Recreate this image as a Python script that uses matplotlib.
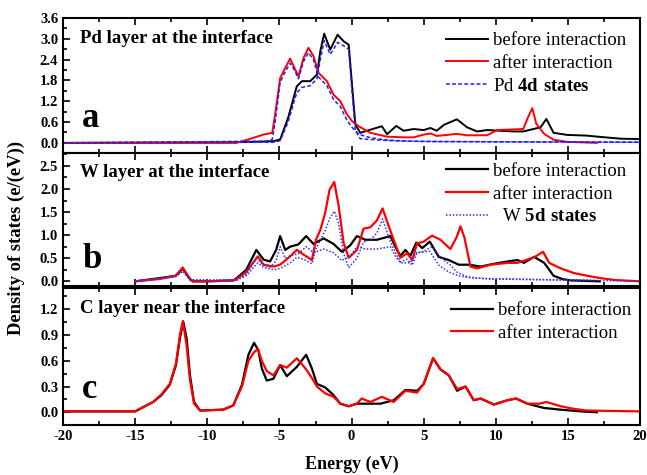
import matplotlib
matplotlib.use("Agg")
import matplotlib.pyplot as plt
from matplotlib.ticker import MultipleLocator

plt.rcParams['font.family'] = 'Liberation Serif'
plt.rcParams['mathtext.fontset'] = 'custom'
plt.rcParams['mathtext.rm'] = 'Liberation Serif'
plt.rcParams['mathtext.bf'] = 'Liberation Serif:bold'
plt.rcParams['axes.unicode_minus'] = False

# Panel a: Pd layer at the interface
eA_before = [-20, -8, -6, -5.4, -4.95, -4.4, -3.8, -3.44, -2.87, -2.4, -2.17, -1.9, -1.48, -0.97,
             -0.55, -0.2, 0.03, 0.26, 0.6, 1.3, 2.1, 2.46, 3.1, 3.6, 4.3, 5.0, 5.46, 5.9, 6.4, 7.3,
             8.0, 8.7, 9.4, 10.3, 11.25, 11.9, 12.6, 13.1, 13.5, 14.0, 14.95, 16.3, 17.3, 18.7, 20]
dosA_before = [0, 0.02, 0.04, 0.05, 0.1, 0.72, 1.63, 1.78, 1.78, 1.97, 2.64, 3.15, 2.69, 3.12,
               2.93, 2.83, 1.68, 0.53, 0.29, 0.38, 0.48, 0.25, 0.49, 0.35, 0.4, 0.37, 0.43, 0.35, 0.52, 0.68,
               0.45, 0.33, 0.37, 0.35, 0.33, 0.33, 0.4, 0.45, 0.69, 0.29, 0.23, 0.21, 0.17, 0.12, 0.11]
eA_after = [-20, -8.0, -7.0, -6.1, -5.5, -5.3, -4.95, -4.6, -4.26, -3.96, -3.68, -3.33, -2.99, -2.64,
            -2.29, -1.71, -1.25, -0.78, -0.32, 0.03, 0.49, 1.3, 2.46, 3.6, 4.3, 5.0, 5.5, 5.9, 7.3,
            8.0, 9.4, 10.1, 11.25, 11.9, 12.25, 12.53, 12.8, 13.35, 14.0, 14.95, 17.0]
dosA_after = [0, 0, 0.12, 0.24, 0.29, 0.82, 1.87, 2.16, 2.43, 2.16, 1.92, 2.45, 2.74, 2.5,
              2.02, 1.78, 1.39, 1.2, 0.82, 0.63, 0.48, 0.29, 0.18, 0.16, 0.16, 0.24, 0.27, 0.2, 0.26,
              0.22, 0.22, 0.37, 0.39, 0.4, 0.76, 1.0, 0.55, 0.26, 0.09, 0.03, 0.0]
eA_4dBefore = [-20, -5.4, -4.95, -4.4, -3.8, -3.44, -2.87, -2.4, -2.17, -1.9, -1.48, -0.97, -0.55,
               -0.2, 0.03, 0.26, 0.6, 1.3, 2.0, 3.0, 5.0, 10.0, 20]
dosA_4dBefore = [0, 0.02, 0.06, 0.6, 1.45, 1.6, 1.65, 1.85, 2.4, 2.95, 2.55, 2.9, 2.8,
                 2.7, 1.5, 0.35, 0.12, 0.1, 0.08, 0.06, 0.04, 0.03, 0.02]
eA_4dAfter = [-20, -6.0, -5.5, -5.3, -4.95, -4.6, -4.26, -3.96, -3.68, -3.33, -2.99, -2.64, -2.29,
              -1.71, -1.25, -0.78, -0.32, 0.03, 0.49, 1.3, 2.5, 4.0, 6.0, 12.0, 20]
dosA_4dAfter = [0, 0.05, 0.1, 0.6, 1.75, 2.05, 2.3, 2.1, 1.85, 2.35, 2.6, 2.4, 1.9,
                1.65, 1.25, 1.05, 0.65, 0.45, 0.25, 0.15, 0.08, 0.05, 0.04, 0.03, 0.02]

# Panel b: W layer at the interface
eB_before = [-15, -13.3, -12.2, -11.7, -11.2, -11.0, -10, -8.2, -7.96, -7.3, -6.6, -6.1, -5.65,
             -5.23, -4.95, -4.6, -4.26, -3.68, -3.15, -2.64, -1.94, -1.25, -0.67, -0.09, 0.37, 0.95,
             1.76, 2.69, 3.03, 3.38, 3.73, 4.07, 4.49, 4.9, 5.42, 6.04, 6.74, 7.43, 8.13, 8.94, 9.87,
             10.8, 11.5, 11.95, 12.65, 13.35, 14.0, 14.6, 15.2, 17.2]
dosB_before = [0, 0.07, 0.12, 0.27, 0.05, 0.0, 0.0, 0.02, 0.07, 0.25, 0.68, 0.47, 0.43,
               0.68, 0.98, 0.68, 0.75, 0.8, 0.98, 0.81, 0.93, 0.81, 0.64, 0.78, 0.98, 0.9,
               0.9, 0.98, 0.75, 0.55, 0.68, 0.55, 0.84, 0.72, 0.86, 0.53, 0.46, 0.36, 0.36, 0.32, 0.38,
               0.43, 0.46, 0.4, 0.53, 0.4, 0.12, 0.05, 0.02, 0.0]
eB_after = [-15, -13.3, -12.2, -11.7, -11.2, -11.0, -10, -8.2, -7.96, -7.3, -6.5, -6.1, -5.4, -4.95,
            -4.26, -3.8, -3.33, -2.75, -2.47, -2.17, -1.83, -1.53, -1.2, -0.9, -0.55, -0.2, 0.37,
            0.83, 1.3, 1.76, 2.15, 2.57, 2.92, 3.38, 3.85, 4.2, 4.54, 5.0, 5.58, 6.16, 6.85, 7.27,
            7.55, 7.82, 8.24, 8.7, 9.63, 10.8, 11.5, 12.65, 13.27, 13.7, 14.5, 15.4, 16.33, 17.25,
            18.2, 20]
dosB_after = [0, 0.05, 0.12, 0.3, 0.05, 0.0, 0.0, 0.02, 0.05, 0.2, 0.54, 0.36, 0.32, 0.36,
              0.54, 0.68, 0.58, 0.46, 0.9, 1.11, 1.48, 1.98, 2.15, 1.64, 0.83, 0.51, 0.68,
              1.14, 1.17, 1.32, 1.58, 1.2, 0.9, 0.51, 0.61, 0.46, 0.82, 0.86, 0.99, 0.9, 0.7, 0.95,
              1.19, 0.95, 0.32, 0.28, 0.36, 0.4, 0.4, 0.52, 0.64, 0.4, 0.28, 0.18, 0.12, 0.07,
              0.03, 0.0]
eB_5dBefore = [-15, -12.2, -11.7, -11.2, -8.0, -7.3, -6.6, -6.1, -5.65, -5.23, -4.95, -4.6, -4.26,
               -3.68, -3.15, -2.64, -1.94, -1.25, -0.67, -0.09, 0.37, 0.95, 1.76, 2.69, 3.03, 3.38,
               4.07, 4.49, 5.42, 6.04, 6.74, 7.43, 8.13, 10.0, 14.0, 17.0]
dosB_5dBefore = [0, 0.1, 0.22, 0.03, 0.02, 0.15, 0.5, 0.35, 0.3, 0.45, 0.75, 0.5, 0.55,
                 0.6, 0.75, 0.62, 0.7, 0.62, 0.45, 0.55, 0.75, 0.7, 0.7, 0.75, 0.55, 0.4,
                 0.4, 0.62, 0.65, 0.35, 0.2, 0.12, 0.08, 0.05, 0.03, 0.02]
eB_5dAfter = [-15, -12.2, -11.7, -11.2, -8.0, -7.3, -6.5, -6.1, -5.4, -4.95, -4.26, -3.8, -3.33,
              -2.75, -2.47, -2.17, -1.83, -1.53, -1.2, -0.9, -0.55, -0.2, 0.37, 0.83, 1.3, 1.76,
              2.15, 2.57, 2.92, 3.38, 3.85, 4.2, 4.54, 5.0, 5.58, 6.16, 6.85, 7.3, 8.0, 8.7, 9.6,
              11.0, 13.0, 15.0, 17.0, 20]
dosB_5dAfter = [0, 0.1, 0.22, 0.03, 0.02, 0.12, 0.4, 0.3, 0.25, 0.28, 0.4, 0.52, 0.48,
                0.38, 0.7, 0.9, 1.1, 1.35, 1.52, 1.25, 0.6, 0.3, 0.5, 0.85, 0.9, 1.05,
                1.35, 0.95, 0.7, 0.42, 0.48, 0.35, 0.62, 0.65, 0.75, 0.52, 0.35, 0.2, 0.1, 0.07, 0.05,
                0.05, 0.04, 0.03, 0.02, 0.0]

# Panel c: C layer near the interface
eC_before = [-20, -15.0, -14.44, -13.75, -13.17, -12.6, -12.17, -11.9, -11.67, -11.43, -11.2, -10.92,
             -10.5, -8.9, -8.2, -7.6, -7.15, -6.76, -6.46, -6.22, -5.88, -5.42, -4.95, -4.49, -3.79,
             -3.15, -2.75, -2.4, -1.83, -1.25, -0.78, -0.2, 0.37, 1.3, 2.0, 2.92, 3.73, 4.54, 5.0,
             5.65, 6.16, 6.74, 7.32, 7.9, 8.47, 8.94, 9.86, 10.8, 11.4, 12.18, 13.33, 14.5, 15.9, 17.0]
dosC_before = [0.01, 0.01, 0.06, 0.12, 0.2, 0.32, 0.55, 0.86, 1.06, 0.86, 0.43, 0.12,
               0.02, 0.03, 0.08, 0.32, 0.67, 0.81, 0.72, 0.51, 0.37, 0.39, 0.55, 0.42, 0.53,
               0.67, 0.51, 0.33, 0.29, 0.2, 0.1, 0.07, 0.1, 0.1, 0.1, 0.14, 0.26, 0.25, 0.33,
               0.63, 0.5, 0.43, 0.25, 0.3, 0.14, 0.16, 0.09, 0.14, 0.16, 0.1, 0.05, 0.03, 0.01, 0.0]
eC_after = [-20, -15.0, -14.44, -13.75, -13.17, -12.6, -12.17, -11.9, -11.7, -11.45, -11.2, -10.92,
            -10.5, -8.9, -8.2, -7.6, -7.15, -6.76, -6.5, -6.22, -5.88, -5.42, -4.95, -4.49, -3.79,
            -3.15, -2.75, -2.4, -1.83, -1.25, -0.78, -0.2, 0.37, 0.7, 1.3, 2.1, 2.92, 3.73, 4.54,
            5.0, 5.65, 6.16, 6.74, 7.32, 7.9, 8.47, 8.94, 9.86, 10.8, 11.4, 12.18, 13.0, 13.5, 14.5,
            15.4, 16.3, 20]
dosC_after = [0.01, 0.01, 0.06, 0.12, 0.21, 0.33, 0.57, 0.9, 1.06, 0.8, 0.38, 0.1,
              0.02, 0.03, 0.08, 0.3, 0.6, 0.7, 0.74, 0.6, 0.48, 0.43, 0.55, 0.52, 0.63,
              0.5, 0.4, 0.3, 0.22, 0.18, 0.1, 0.07, 0.1, 0.16, 0.12, 0.18, 0.12, 0.25, 0.23,
              0.33, 0.63, 0.5, 0.43, 0.27, 0.3, 0.14, 0.16, 0.09, 0.14, 0.16, 0.1, 0.1, 0.12, 0.07,
              0.04, 0.02, 0.01]

panelTitles = ["Pd layer at the interface", "W layer at the interface", "C layer near the interface"]
panelLetters = ["a", "b", "c"]


def styleAxes(ax, ylim, major, minor):
    ax.set_xlim(-20, 20)
    ax.set_ylim(*ylim)
    ax.xaxis.set_major_locator(MultipleLocator(5))
    ax.xaxis.set_minor_locator(MultipleLocator(2.5))
    ax.yaxis.set_major_locator(MultipleLocator(major))
    ax.yaxis.set_minor_locator(MultipleLocator(minor))
    ax.tick_params(which='both', direction='in', top=True, right=False, width=1.2)
    ax.tick_params(which='major', length=5, labelsize=10.5)
    ax.tick_params(which='minor', length=3)
    for s in ax.spines.values():
        s.set_linewidth(1.5)
    for lab in ax.get_yticklabels() + ax.get_xticklabels():
        lab.set_fontweight('bold')


fig = plt.figure(figsize=(6.47, 4.75), dpi=100)
left, width = 0.0974, 0.892
axA = fig.add_axes([left, 0.678, width, 0.284])
axB = fig.add_axes([left, 0.398, width, 0.280])
axC = fig.add_axes([left, 0.105, width, 0.289])

lw = 1.4
axA.plot(eA_before, dosA_before, color='black', lw=lw, label='before interaction')
axA.plot(eA_after, dosA_after, color='red', lw=lw, label='after interaction')
axA.plot(eA_4dBefore, dosA_4dBefore, color='#2020ff', lw=1.1, ls=(0, (2.5, 1.5)),
         label=r'Pd $\mathbf{4d\ states}$')
axA.plot(eA_4dAfter, dosA_4dAfter, color='#2020ff', lw=1.1, ls=(0, (2.5, 1.5)))

axB.plot(eB_before, dosB_before, color='black', lw=1.6, label='before interaction')
axB.plot(eB_after, dosB_after, color='red', lw=1.6, label='after interaction')
axB.plot(eB_5dBefore, dosB_5dBefore, color='#3030ff', lw=1.1, ls=(0, (1, 1.2)),
         label=r'  W $\mathbf{5d\ states}$')
axB.plot(eB_5dAfter, dosB_5dAfter, color='#3030ff', lw=1.1, ls=(0, (1, 1.2)))

axC.plot(eC_before, dosC_before, color='black', lw=1.6, label='before interaction')
axC.plot(eC_after, dosC_after, color='red', lw=1.6, label='after interaction')

styleAxes(axA, (-0.29, 3.6), 0.6, 0.3)
styleAxes(axB, (-0.1, 2.78), 0.5, 0.25)
styleAxes(axC, (-0.15, 1.45), 0.3, 0.15)
axA.tick_params(labelbottom=False)
axB.tick_params(labelbottom=False)

legendTops = [0.896, 0.926, 0.897]
legendLefts = [0.664, 0.664, 0.672]
letterY = [0.195, 0.133, 0.197]
for ax, title, letter, top, lx, ly in zip([axA, axB, axC], panelTitles, panelLetters,
                                          legendTops, legendLefts, letterY):
    ax.text(0.03, 0.85, title, transform=ax.transAxes, fontsize=13.5, fontweight='bold',
            va='center', ha='left')
    ax.text(0.033, ly, letter, transform=ax.transAxes, fontsize=25, fontweight='bold',
            va='baseline', ha='left')
    ax.legend(loc='upper left', bbox_to_anchor=(lx, top), frameon=False, fontsize=13.5,
              handlelength=2.25, handletextpad=0.25, labelspacing=0.3, borderpad=0,
              borderaxespad=0)

axC.set_xlabel('Energy (eV)', fontsize=13, fontweight='bold', labelpad=9)
fig.text(0.025, 0.5, 'Density of states (e/(eV))', rotation=90, fontsize=13.4,
         fontweight='bold', va='center', ha='center')

fig.savefig('out.png', dpi=100)
